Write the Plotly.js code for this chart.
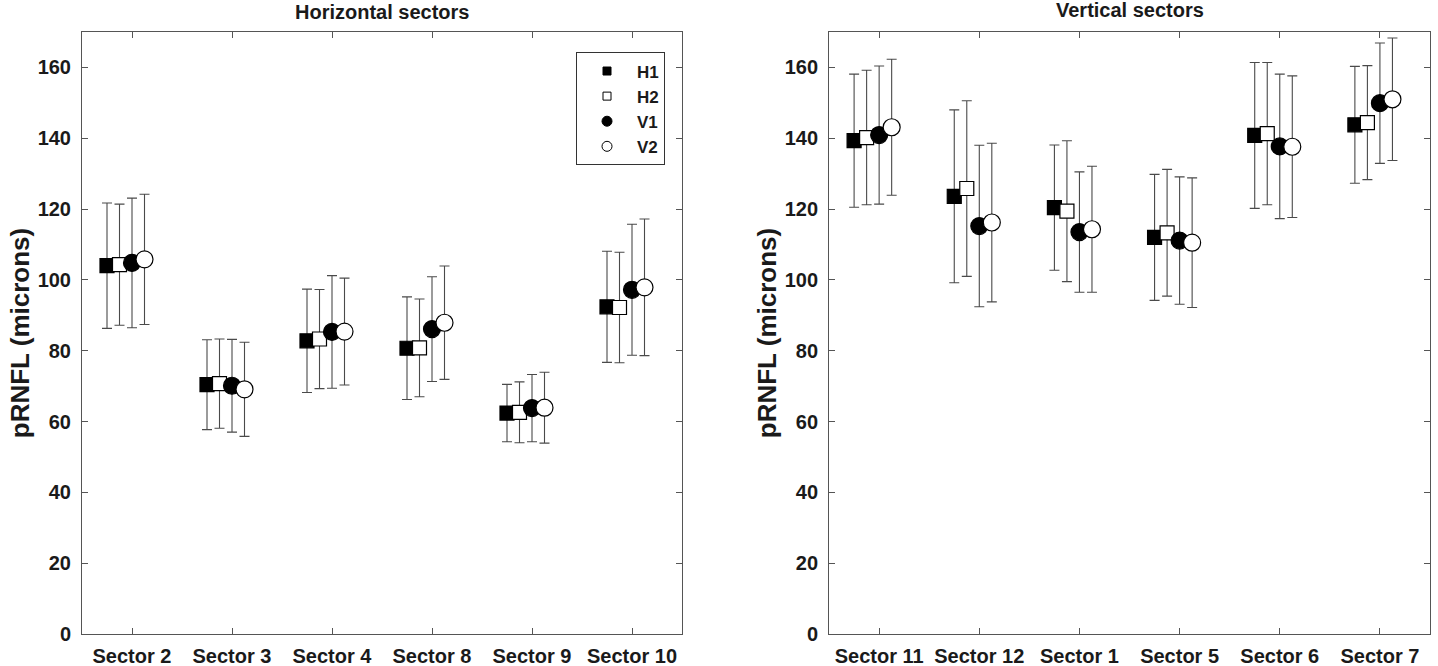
<!DOCTYPE html>
<html><head><meta charset="utf-8">
<script src="https://cdn.plot.ly/plotly-3.0.1.min.js"></script>
<style>html,body{margin:0;padding:0;background:#fff}#chart{width:1438px;height:666px}</style>
</head><body><div id="chart"></div>
<script>
const seriesNames = ['H1', 'H2', 'V1', 'V2'];
const horizCategories = ['Sector 2', 'Sector 3', 'Sector 4', 'Sector 8', 'Sector 9', 'Sector 10'];
const vertCategories = ['Sector 11', 'Sector 12', 'Sector 1', 'Sector 5', 'Sector 6', 'Sector 7'];

// Horizontal sectors: means and SD
const horizH1 = [104.0, 70.4, 82.8, 80.7, 62.4, 92.4];
const horizH1Sd = [17.7, 12.7, 14.6, 14.5, 8.1, 15.7];
const horizH2 = [104.3, 70.7, 83.3, 80.8, 62.6, 92.2];
const horizH2Sd = [17.1, 12.6, 14.0, 13.8, 8.6, 15.6];
const horizV1 = [104.8, 70.1, 85.3, 86.1, 63.8, 97.2];
const horizV1Sd = [18.3, 13.1, 15.9, 14.8, 9.5, 18.5];
const horizV2 = [105.8, 69.1, 85.4, 87.9, 63.9, 97.9];
const horizV2Sd = [18.4, 13.3, 15.1, 16.0, 10.0, 19.3];

// Vertical sectors: means and SD
const vertH1 = [139.3, 123.6, 120.4, 112.0, 140.8, 143.8];
const vertH1Sd = [18.8, 24.4, 17.7, 17.8, 20.6, 16.5];
const vertH2 = [140.2, 125.8, 119.4, 113.3, 141.3, 144.4];
const vertH2Sd = [19.0, 24.8, 19.9, 17.9, 20.1, 16.1];
const vertV1 = [140.9, 115.2, 113.5, 111.1, 137.7, 149.9];
const vertV1Sd = [19.5, 22.8, 17.0, 18.0, 20.4, 17.0];
const vertV2 = [143.1, 116.2, 114.3, 110.5, 137.6, 151.0];
const vertV2Sd = [19.2, 22.4, 17.8, 18.3, 20.0, 17.3];

const horizMeans = [horizH1, horizH2, horizV1, horizV2];
const horizSds = [horizH1Sd, horizH2Sd, horizV1Sd, horizV2Sd];
const vertMeans = [vertH1, vertH2, vertV1, vertV2];
const vertSds = [vertH1Sd, vertH2Sd, vertV1Sd, vertV2Sd];

const offsets = [-0.25, -0.125, 0, 0.125];
const styles = [
  {symbol: 'square', color: '#000', size: 14},
  {symbol: 'square', color: '#fff', size: 14},
  {symbol: 'circle', color: '#000', size: 17},
  {symbol: 'circle', color: '#fff', size: 17}
];
const FONT = 'Liberation Sans, Arial, Helvetica, sans-serif';

const traces = [];
function addPanel(means, sds, cats, xa, ya) {
  means.forEach((m, s) => {
    traces.push({
      type: 'scatter', mode: 'markers', xaxis: xa, yaxis: ya,
      x: cats.map((c, i) => i + 1 + offsets[s]),
      y: m,
      text: cats,
      name: seriesNames[s],
      showlegend: false,
      error_y: {type: 'data', array: sds[s], visible: true, color: '#4a4a4a', thickness: 1.1, width: 5},
      marker: {symbol: styles[s].symbol, size: styles[s].size, color: styles[s].color, line: {color: '#000', width: 1.2}}
    });
  });
}
addPanel(horizMeans, horizSds, horizCategories, 'x', 'y');
addPanel(vertMeans, vertSds, vertCategories, 'x2', 'y2');

// legend entries
seriesNames.forEach((n, s) => {
  traces.push({
    type: 'scatter', mode: 'markers', xaxis: 'x', yaxis: 'y',
    x: [null], y: [null], name: n, showlegend: true,
    marker: {symbol: styles[s].symbol, size: styles[s].symbol === 'square' ? 8 : 10, color: styles[s].color, line: {color: '#000', width: 1}}
  });
});

const tickfont = {family: FONT, size: 20, color: '#1a1a1a', weight: 'bold'};
function xAxis(domain, cats) {
  return {
    domain: domain, range: [0.5, 6.5], tickmode: 'array', tickvals: cats.map((c, i) => i + 1), ticktext: cats,
    ticks: 'inside', ticklen: 6, tickcolor: '#555', showline: true, linecolor: '#555', linewidth: 1,
    mirror: 'ticks', showgrid: false, zeroline: false, tickfont: tickfont, ticklabelstandoff: 4, fixedrange: true
  };
}
function yAxis(anchor) {
  return {
    anchor: anchor, domain: [0, 1], range: [0, 170], tickmode: 'linear', tick0: 0, dtick: 20,
    ticks: 'inside', ticklen: 6, tickcolor: '#555', showline: true, linecolor: '#555', linewidth: 1,
    mirror: 'ticks', showgrid: false, zeroline: false, tickfont: tickfont, ticklabelstandoff: 6,
    title: {text: 'pRNFL (microns)', font: {family: FONT, size: 26, color: '#1a1a1a', weight: 'bold'}, standoff: 0},
    fixedrange: true
  };
}

const layout = {
  width: 1438, height: 666,
  margin: {l: 82, r: 8, t: 32, b: 32},
  paper_bgcolor: '#fff', plot_bgcolor: '#fff',
  font: {family: FONT, color: '#1a1a1a'},
  xaxis: xAxis([0, 0.4451], horizCategories),
  yaxis: yAxis('x'),
  xaxis2: Object.assign(xAxis([0.5542, 1], vertCategories), {anchor: 'y2'}),
  yaxis2: yAxis('x2'),
  showlegend: true,
  legend: {
    x: 0.4325, xanchor: 'right', y: 0.966, yanchor: 'top',
    bordercolor: '#333', borderwidth: 1, bgcolor: '#fff',
    font: {family: FONT, size: 17, color: '#1a1a1a', weight: 'bold'},
    itemwidth: 50, tracegroupgap: 0
  },
  annotations: [
    {text: 'Horizontal sectors', xref: 'x domain', yref: 'paper', x: 0.5, y: 1, yanchor: 'middle', yshift: 20, showarrow: false,
     font: {family: FONT, size: 20, color: '#1a1a1a', weight: 'bold'}},
    {text: 'Vertical sectors', xref: 'x2 domain', yref: 'paper', x: 0.5, y: 1, yanchor: 'middle', yshift: 22, showarrow: false,
     font: {family: FONT, size: 20, color: '#1a1a1a', weight: 'bold'}}
  ]
};

Plotly.newPlot('chart', traces, layout, {displayModeBar: false, staticPlot: true});
</script>
</body></html>
